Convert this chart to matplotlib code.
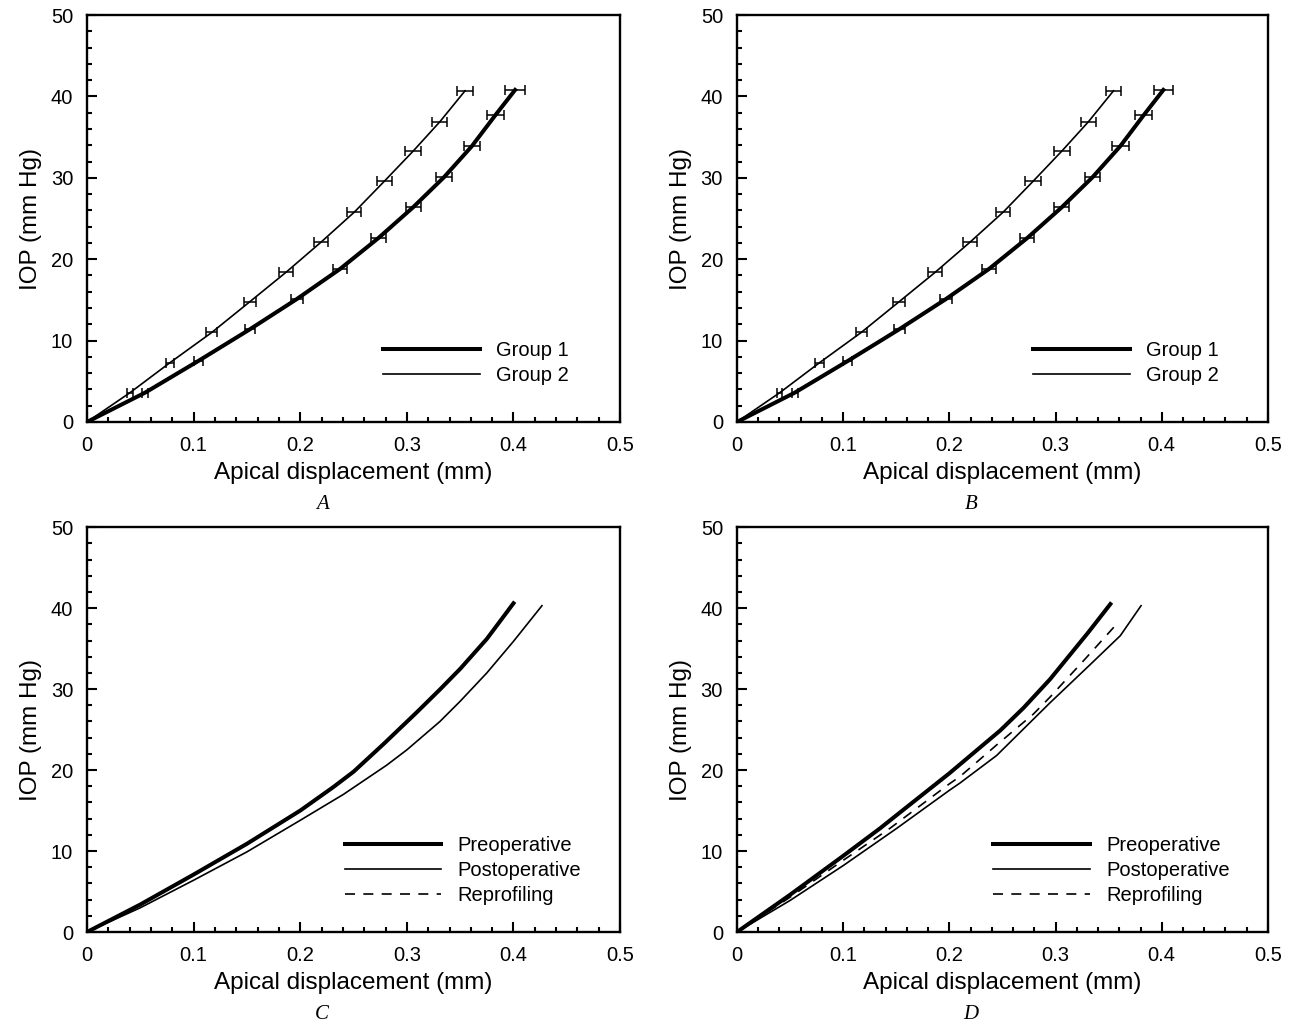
import numpy as np
import matplotlib.pyplot as plt
from matplotlib.ticker import MultipleLocator

plt.rcParams["font.family"] = ["Liberation Sans", "DejaVu Sans"]

# Panels A and B: mean curves with horizontal error bars
g1_disp = [0.0, 0.0544, 0.1044, 0.1529, 0.1967, 0.2373, 0.2733, 0.306, 0.335, 0.361, 0.383, 0.4015]
g1_iop = [0.0, 3.6, 7.5, 11.4, 15.1, 18.8, 22.6, 26.4, 30.1, 33.9, 37.7, 40.8]
g1_err = [0.0, 0.003, 0.0042, 0.005, 0.0058, 0.0063, 0.0067, 0.007, 0.0073, 0.0078, 0.0078, 0.009]

g2_disp = [0.0, 0.0403, 0.0779, 0.117, 0.1529, 0.1867, 0.2195, 0.2508, 0.279, 0.306, 0.331, 0.3546]
g2_iop = [0.0, 3.6, 7.3, 11.0, 14.8, 18.4, 22.1, 25.8, 29.6, 33.3, 36.9, 40.7]
g2_err = [0.0, 0.0025, 0.004, 0.005, 0.0055, 0.0066, 0.0066, 0.0066, 0.0073, 0.0075, 0.007, 0.0074]

# Panel C
c_pre_disp = [0.0, 0.05, 0.1, 0.15, 0.2, 0.231, 0.25, 0.278, 0.309, 0.331, 0.35, 0.375, 0.4]
c_pre_iop = [0.0, 3.4, 7.1, 10.9, 15.0, 17.9, 19.8, 23.2, 27.1, 29.95, 32.5, 36.2, 40.6]
c_post_disp = [0.0, 0.05, 0.1, 0.15, 0.2, 0.2405, 0.281, 0.3, 0.331, 0.35, 0.375, 0.4, 0.4267]
c_post_iop = [0.0, 3.0, 6.4, 9.9, 13.8, 17.0, 20.6, 22.5, 26.0, 28.5, 32.0, 35.9, 40.3]
c_rep_disp = [0.0, 0.05, 0.1, 0.15, 0.2, 0.231, 0.25, 0.278, 0.309, 0.331, 0.35, 0.375, 0.398]
c_rep_iop = [0.0, 3.4, 7.1, 10.9, 15.0, 17.9, 19.8, 23.2, 27.1, 29.95, 32.5, 36.2, 40.4]

# Panel D
d_pre_disp = [0.0, 0.05, 0.1, 0.1347, 0.15, 0.2, 0.248, 0.27, 0.2947, 0.3308, 0.3516]
d_pre_iop = [0.0, 4.6, 9.4, 12.8, 14.4, 19.6, 24.9, 27.7, 31.2, 37.0, 40.5]
d_post_disp = [0.0, 0.05, 0.1, 0.1504, 0.2, 0.21, 0.2445, 0.2947, 0.3324, 0.361, 0.3805]
d_post_iop = [0.0, 3.9, 8.2, 12.8, 17.5, 18.4, 21.8, 28.3, 33.0, 36.6, 40.3]
d_rep_disp = [0.0, 0.05, 0.1, 0.144, 0.2, 0.21, 0.2445, 0.279, 0.2947, 0.3277, 0.3594]
d_rep_iop = [0.0, 4.3, 8.85, 12.8, 18.3, 19.2, 23.1, 26.9, 29.0, 33.7, 38.3]

panel_letters = ["A", "B", "C", "D"]

THICK = 2.9
THIN = 1.2

fig = plt.figure(figsize=(12.97, 10.25), dpi=100)
boxes = [
    [0.0671, 0.5883, 0.411, 0.397],
    [0.5682, 0.5883, 0.4094, 0.397],
    [0.0671, 0.0907, 0.411, 0.395],
    [0.5682, 0.0907, 0.4094, 0.395],
]
axes = [fig.add_axes(b) for b in boxes]


def style(ax, letter):
    ax.set_xlim(0, 0.5)
    ax.set_ylim(0, 50)
    ax.xaxis.set_major_locator(MultipleLocator(0.1))
    ax.xaxis.set_minor_locator(MultipleLocator(0.02))
    ax.yaxis.set_major_locator(MultipleLocator(10))
    ax.yaxis.set_minor_locator(MultipleLocator(2))
    ax.xaxis.set_major_formatter(lambda v, p: "0" if v == 0 else f"{v:g}")
    ax.tick_params(which="both", direction="in", top=False, right=False, width=1.5)
    ax.tick_params(which="major", length=7, labelsize=14.5)
    ax.tick_params(axis="y", which="major", pad=10)
    ax.tick_params(axis="x", which="major", pad=10)
    ax.tick_params(which="minor", length=3.5)
    for s in ax.spines.values():
        s.set_linewidth(1.7)
    ax.set_xlabel("Apical displacement (mm)", fontsize=17.5, labelpad=5)
    ax.set_ylabel("IOP (mm Hg)", fontsize=17.5, labelpad=6)
    ax.text(0.441, -0.203, letter, transform=ax.transAxes, ha="center", va="center",
            fontsize=15, fontstyle="italic", family=["Liberation Serif", "DejaVu Serif"])


for ax in axes[:2]:
    ax.errorbar(g1_disp, g1_iop, xerr=g1_err, color="black", lw=THICK, elinewidth=1.1,
                capsize=3.5, capthick=1.1, label="Group 1")
    ax.errorbar(g2_disp, g2_iop, xerr=g2_err, color="black", lw=THIN, elinewidth=1.1,
                capsize=3.5, capthick=1.1, label="Group 2")
    h, l = ax.get_legend_handles_labels()
    h = [x[0] for x in h]
    anchor_x = 0.522 if ax is axes[0] else 0.524
    ax.legend(h, l, loc="lower left", bbox_to_anchor=(anchor_x, 0.046), frameon=False,
              fontsize=14.5, handlelength=4.8, handletextpad=0.8, labelspacing=0.3)

for ax, pre, post, rep in [
    (axes[2], (c_pre_disp, c_pre_iop), (c_post_disp, c_post_iop), (c_rep_disp, c_rep_iop)),
    (axes[3], (d_pre_disp, d_pre_iop), (d_post_disp, d_post_iop), (d_rep_disp, d_rep_iop)),
]:
    ax.plot(*rep, color="black", lw=THIN, ls=(0, (6, 5)), label="Reprofiling", zorder=2)
    ax.plot(*post, color="black", lw=THIN, label="Postoperative", zorder=3)
    ax.plot(*pre, color="black", lw=THICK, label="Preoperative", zorder=4)
    h, l = ax.get_legend_handles_labels()
    ax.legend(h[::-1], l[::-1], loc="lower left", bbox_to_anchor=(0.449, 0.021), frameon=False,
              fontsize=14.5, handlelength=4.8, handletextpad=0.8, labelspacing=0.3)

for ax, letter in zip(axes, panel_letters):
    style(ax, letter)

fig.savefig("out.png", dpi=100)
